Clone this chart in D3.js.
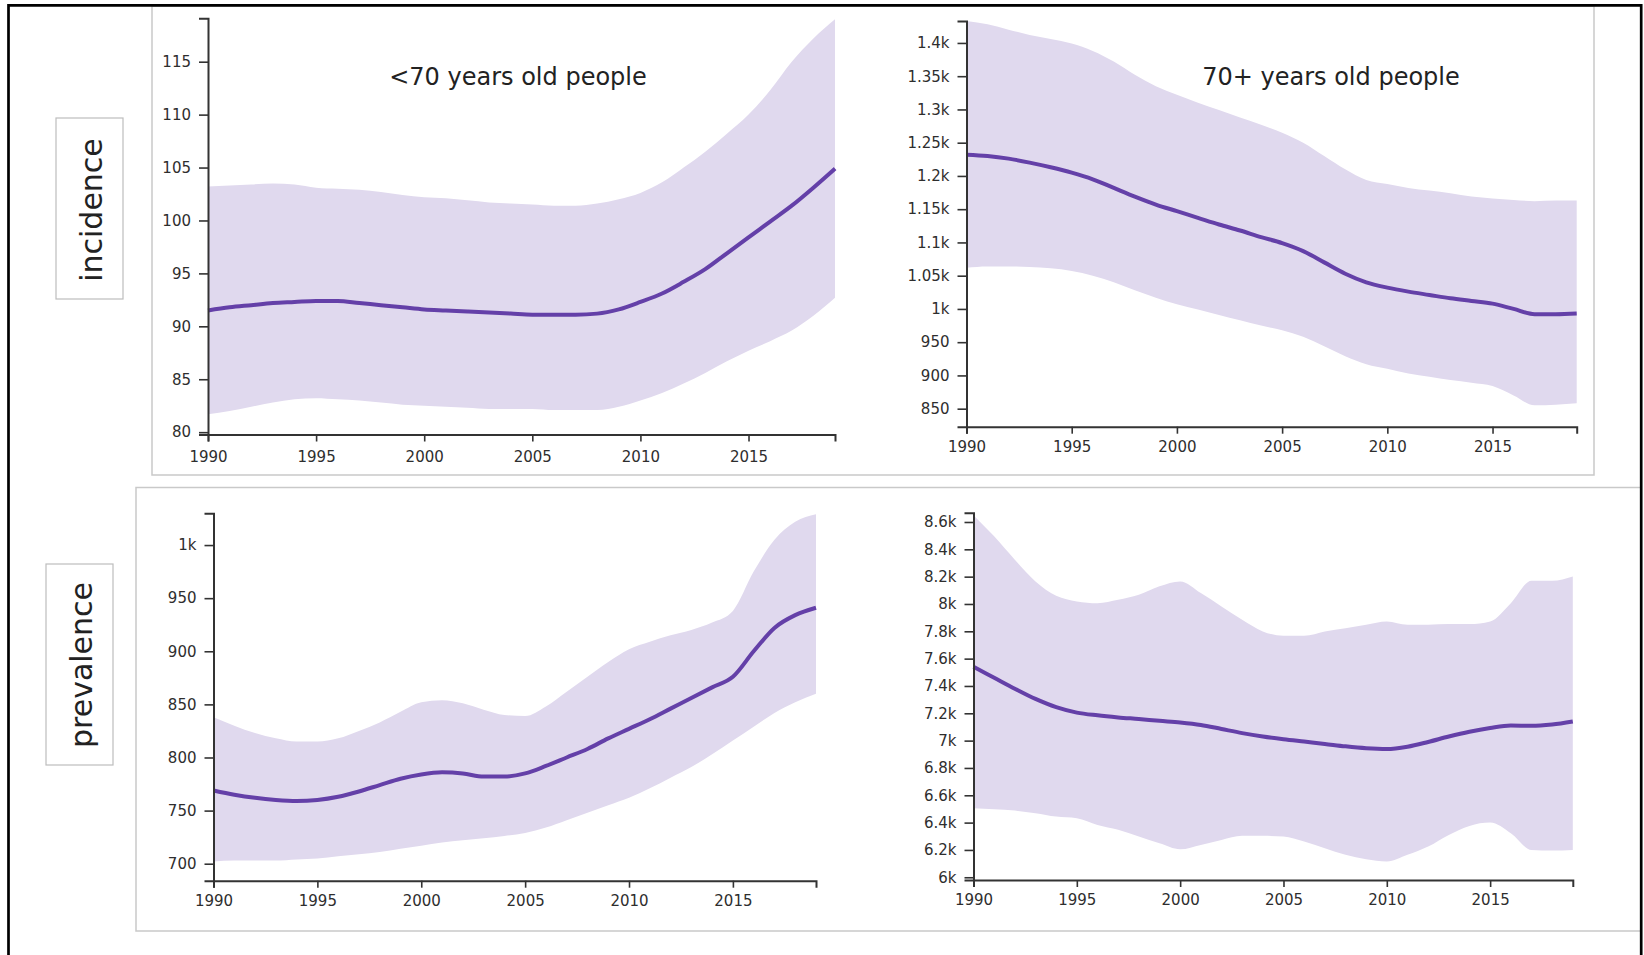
<!DOCTYPE html>
<html><head><meta charset="utf-8">
<script src="https://cdn.jsdelivr.net/npm/d3@7"></script>
<style>body{margin:0;background:#fff}svg{display:block}</style>
</head><body>
<svg id="c" width="1644" height="955"></svg>
<script>
// ---------- data ----------
const years = [1990,1991,1992,1993,1994,1995,1996,1997,1998,1999,2000,2001,2002,2003,2004,2005,2006,2007,2008,2009,2010,2011,2012,2013,2014,2015,2016,2017,2018,2019];
const xTicks = [1990,1995,2000,2005,2010,2015];

const rowLabels = ["incidence", "prevalence"];
const colTitles = ["<70 years old people", "70+ years old people"];

// incidence, <70
const incYoungMean  = [91.5,91.8,92.0,92.2,92.3,92.4,92.4,92.2,92.0,91.8,91.6,91.5,91.4,91.3,91.2,91.1,91.1,91.1,91.2,91.6,92.3,93.1,94.2,95.4,96.9,98.4,99.9,101.4,103.1,104.9];
const incYoungUpper = [103.2,103.3,103.4,103.5,103.4,103.1,103.0,102.9,102.7,102.4,102.2,102.1,101.9,101.7,101.6,101.5,101.4,101.4,101.6,102.0,102.6,103.6,105.0,106.5,108.2,110.0,112.3,115.0,117.2,119.0];
const incYoungLower = [81.7,82.0,82.4,82.8,83.1,83.2,83.1,83.0,82.8,82.6,82.5,82.4,82.3,82.2,82.2,82.2,82.1,82.1,82.1,82.4,83.0,83.7,84.6,85.6,86.7,87.7,88.6,89.6,91.0,92.7];
const incYoungTicks = [80,85,90,95,100,105,110,115];
const incYoungTickLabels = ["80","85","90","95","100","105","110","115"];

// incidence, 70+
const incOldMean  = [1232,1230,1226,1220,1213,1205,1195,1182,1169,1157,1147,1137,1127,1118,1108,1099,1087,1070,1053,1040,1032,1026,1021,1016,1012,1008,1000,992,992,993];
const incOldUpper = [1433,1428,1420,1412,1406,1399,1388,1372,1352,1335,1322,1310,1299,1288,1277,1265,1250,1230,1210,1194,1188,1182,1178,1174,1169,1166,1164,1162,1163,1163];
const incOldLower = [1062,1064,1064,1063,1061,1057,1050,1040,1028,1017,1007,999,991,983,975,968,958,944,929,917,910,903,898,893,889,884,870,855,856,858];
const incOldTicks = [850,900,950,1000,1050,1100,1150,1200,1250,1300,1350,1400];
const incOldTickLabels = ["850","900","950","1k","1.05k","1.1k","1.15k","1.2k","1.25k","1.3k","1.35k","1.4k"];

// prevalence, <70
const prevYoungMean  = [769,765,762,760,759,760,763,768,774,780,784,786,785,782,782,785,792,800,808,818,827,836,846,856,866,876,900,922,934,941];
const prevYoungUpper = [838,830,823,818,815,815,818,825,833,843,852,854,851,845,840,839,848,862,876,890,902,909,915,920,927,938,975,1005,1022,1029];
const prevYoungLower = [702,703,703,703,704,705,707,709,711,714,717,720,722,724,726,729,734,741,748,755,762,771,781,791,803,816,829,842,852,860];
const prevYoungTicks = [700,750,800,850,900,950,1000];
const prevYoungTickLabels = ["700","750","800","850","900","950","1k"];

// prevalence, 70+
const prevOldMean  = [7540,7460,7380,7305,7245,7205,7185,7170,7158,7145,7133,7115,7085,7055,7030,7010,6993,6976,6958,6944,6938,6955,6990,7030,7065,7092,7110,7108,7118,7140];
const prevOldUpper = [8650,8495,8324,8165,8060,8019,8006,8031,8067,8129,8165,8080,7982,7884,7799,7767,7767,7799,7823,7848,7872,7848,7848,7853,7853,7872,8006,8170,8170,8202];
const prevOldLower = [6505,6497,6488,6469,6444,6432,6383,6347,6298,6249,6205,6237,6273,6303,6303,6298,6261,6212,6164,6132,6115,6164,6225,6310,6376,6400,6322,6200,6195,6200];
const prevOldTicks = [6000,6200,6400,6600,6800,7000,7200,7400,7600,7800,8000,8200,8400,8600];
const prevOldTickLabels = ["6k","6.2k","6.4k","6.6k","6.8k","7k","7.2k","7.4k","7.6k","7.8k","8k","8.2k","8.4k","8.6k"];

// ---------- drawing ----------
const BAND = "#e0d9ee", LINE = "#6440a8", AXIS = "#333", FRAME = "#c9c9c9";
const FONT = "'DejaVu Sans', sans-serif";
const svg = d3.select("#c");

// screenshot frames
svg.append("rect").attr("x",152).attr("y",6).attr("width",1442).attr("height",469)
  .attr("fill","none").attr("stroke",FRAME).attr("stroke-width",1.5);
svg.append("rect").attr("x",136).attr("y",487.5).attr("width",1505).attr("height",443.5)
  .attr("fill","none").attr("stroke",FRAME).attr("stroke-width",1.5);

const panels = [
  {mean:incYoungMean, upper:incYoungUpper, lower:incYoungLower, ticks:incYoungTicks, labels:incYoungTickLabels,
   xr:[208,835], yd:[79.78,119.1], yr:[434.5,18.3], xpad:9.5},
  {mean:incOldMean, upper:incOldUpper, lower:incOldLower, ticks:incOldTicks, labels:incOldTickLabels,
   xr:[966.5,1576.7], yd:[822.9,1433], yr:[426.7,21], xpad:8},
  {mean:prevYoungMean, upper:prevYoungUpper, lower:prevYoungLower, ticks:prevYoungTicks, labels:prevYoungTickLabels,
   xr:[213.5,816], yd:[684,1029.9], yr:[880.7,513.3], xpad:7.5},
  {mean:prevOldMean, upper:prevOldUpper, lower:prevOldLower, ticks:prevOldTicks, labels:prevOldTickLabels,
   xr:[973.5,1572.8], yd:[5980,8668], yr:[880,512.7], xpad:7.5}
];

panels.forEach(p => {
  const x = d3.scaleLinear().domain([years[0], years[years.length-1]]).range(p.xr);
  const y = d3.scaleLinear().domain(p.yd).range(p.yr);
  const g = svg.append("g");
  const area = d3.area()
    .x((d,i) => x(years[i]))
    .y0((d,i) => y(p.lower[i]))
    .y1((d,i) => y(p.upper[i]))
    .curve(d3.curveMonotoneX);
  g.append("path").datum(p.mean).attr("d", area).attr("fill", BAND);
  const line = d3.line().x((d,i) => x(years[i])).y(d => y(d)).curve(d3.curveMonotoneX);
  g.append("path").datum(p.mean).attr("d", line).attr("fill","none")
    .attr("stroke", LINE).attr("stroke-width", 4).attr("stroke-linejoin","round");

  const ya = g.append("g").attr("transform", `translate(${p.xr[0]},0)`)
    .call(d3.axisLeft(y).tickValues(p.ticks).tickFormat((d,i) => p.labels[i]).tickSize(9).tickPadding(8));
  const xa = g.append("g").attr("transform", `translate(0,${p.yr[0]})`)
    .call(d3.axisBottom(x).tickValues(xTicks).tickFormat(d3.format("d")).tickSize(7).tickPadding(p.xpad));
  [ya, xa].forEach(a => {
    a.select(".domain").attr("stroke", AXIS).attr("stroke-width", 2);
    a.selectAll(".tick line").attr("stroke", AXIS).attr("stroke-width", 1.6);
    a.selectAll(".tick text").attr("fill", "#2e2e2e").style("font-family", FONT).style("font-size", "15px");
  });
});

// column titles
const titlePos = [[518,85],[1331,85]];
colTitles.forEach((t,i) => {
  svg.append("text").attr("x", titlePos[i][0]).attr("y", titlePos[i][1])
    .attr("text-anchor","middle").attr("fill","#222")
    .style("font-family", FONT).style("font-size","24px").text(t);
});

// row labels in boxes
const rowBoxes = [{x:56,y:118,w:67,h:181,tx:102,ty:210},{x:46,y:564,w:67,h:201,tx:92,ty:665}];
rowLabels.forEach((t,i) => {
  const b = rowBoxes[i];
  svg.append("rect").attr("x",b.x).attr("y",b.y).attr("width",b.w).attr("height",b.h)
    .attr("fill","#fff").attr("stroke","#bdbdbd").attr("stroke-width",1.2);
  svg.append("text").attr("transform",`translate(${b.tx},${b.ty}) rotate(-90)`)
    .attr("text-anchor","middle").attr("fill","#222")
    .style("font-family", FONT).style("font-size","30px").text(t);
});

// outer black border
svg.append("path").attr("d","M8.5,955V5.3H1641.2V955").attr("fill","none")
  .attr("stroke","#000").attr("stroke-width",2.7);
</script>
</body></html>
